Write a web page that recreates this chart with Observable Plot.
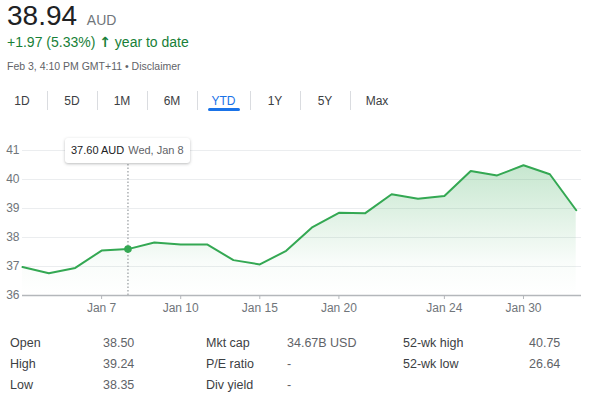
<!DOCTYPE html>
<html>
<head>
<meta charset="utf-8">
<script src="https://cdn.jsdelivr.net/npm/d3@7"></script>
<script src="https://cdn.jsdelivr.net/npm/@observablehq/plot@0.6"></script>
<style>
  html, body { margin: 0; padding: 0; background: #fff; }
  body { width: 601px; height: 399px; overflow: hidden; position: relative;
         font-family: Arial, "Liberation Sans", sans-serif; }
  .abs { position: absolute; white-space: nowrap; }
  #price { left: 7px; top: 0px; font-size: 28px; color: #202124; line-height: normal; }
  #price .cur { font-size: 14px; color: #70757a; margin-left: 2px; }
  #change { left: 7px; top: 34px; font-size: 14px; color: #188038; line-height: 17px; }
  #stamp { left: 7px; top: 60px; font-size: 10.5px; color: #5f6368; line-height: 13px; }
  .tab { position: absolute; top: 93px; font-size: 12px; color: #3c4043; text-align: center; line-height: 16px; }
  .tab.active { color: #1a73e8; }
  .sep { position: absolute; top: 91px; width: 1px; height: 19px; background: #dadce0; }
  #underline { position: absolute; top: 108px; height: 3px; background: #1a73e8; border-radius: 2px; }
  #chart { position: absolute; left: 0; top: 130px; }
  #tip { position: absolute; background: #fff; border-radius: 3px;
         box-shadow: 0 1px 3px rgba(60,64,67,0.35); font-size: 11px; line-height: 25px;
         height: 25px; padding: 0 6px; white-space: nowrap; color: #202124; }
  #tip .d { color: #5f6368; margin-left: 4px; }
  .st { position: absolute; font-size: 12.5px; line-height: 15px; white-space: nowrap; }
  .st.l { color: #3c4043; }
  .st.v { color: #5f6368; }
</style>
</head>
<body>
<div id="price" class="abs"></div>
<div id="change" class="abs"></div>
<div id="stamp" class="abs"></div>
<div id="tabs"></div>
<div id="chart"></div>
<div id="stats"></div>

<script>
// ---- Data ----
const priceNow = "38.94";
const currency = "AUD";
const changeText = "+1.97 (5.33%)";
const changeSuffix = "year to date";
const stampText = "Feb 3, 4:10 PM GMT+11 • Disclaimer";

const tabLabels = ["1D", "5D", "1M", "6M", "YTD", "1Y", "5Y", "Max"];
const activeTab = "YTD";

// trading days (YTD) and closing prices
const dates = ["Jan 2", "Jan 3", "Jan 6", "Jan 7", "Jan 8", "Jan 9", "Jan 10", "Jan 13", "Jan 14", "Jan 15",
               "Jan 16", "Jan 17", "Jan 20", "Jan 21", "Jan 22", "Jan 23", "Jan 24", "Jan 28", "Jan 29", "Jan 30",
               "Jan 31", "Feb 3"];
const closes = [36.98, 36.77, 36.95, 37.55, 37.60, 37.83, 37.76, 37.76, 37.22, 37.07,
                37.54, 38.36, 38.85, 38.84, 39.49, 39.34, 39.43, 40.29, 40.14, 40.49,
                40.18, 38.94];

const xTickDates = ["Jan 7", "Jan 10", "Jan 15", "Jan 20", "Jan 24", "Jan 30"];
const yTicks = [36, 37, 38, 39, 40, 41];

const tipDate = "Jan 8";
const tipLabel = "Wed, Jan 8";

const statLabels1 = ["Open", "High", "Low"];
const statValues1 = ["38.50", "39.24", "38.35"];
const statLabels2 = ["Mkt cap", "P/E ratio", "Div yield"];
const statValues2 = ["34.67B USD", "-", "-"];
const statLabels3 = ["52-wk high", "52-wk low"];
const statValues3 = ["40.75", "26.64"];

// ---- Header ----
document.getElementById("price").innerHTML = priceNow + ' <span class="cur">' + currency + '</span>';
document.getElementById("change").innerHTML = changeText + ' <span style="font-weight:bold;font-family:\'DejaVu Sans\'">&#8593;</span> ' + changeSuffix;
document.getElementById("stamp").textContent = stampText;

// ---- Tabs ----
const tabBounds = [-3, 47, 97, 147, 197, 250, 300, 350, 404];
const tabs = document.getElementById("tabs");
tabLabels.forEach((t, i) => {
  const d = document.createElement("div");
  d.className = "tab" + (t === activeTab ? " active" : "");
  d.style.left = tabBounds[i] + "px";
  d.style.width = (tabBounds[i + 1] - tabBounds[i]) + "px";
  d.textContent = t;
  tabs.appendChild(d);
  if (i < tabLabels.length - 1) {
    const s = document.createElement("div");
    s.className = "sep";
    s.style.left = tabBounds[i + 1] + "px";
    tabs.appendChild(s);
  }
  if (t === activeTab) {
    const u = document.createElement("div");
    u.id = "underline";
    const c = (tabBounds[i] + tabBounds[i + 1]) / 2;
    u.style.left = (c - 16) + "px";
    u.style.width = "32px";
    tabs.appendChild(u);
  }
});

// ---- Chart ----
const green = "#34a853";
const data = dates.map((d, i) => ({i, date: d, close: closes[i]}));
const tickIdx = xTickDates.map(d => dates.indexOf(d));
const tipIdx = dates.indexOf(tipDate);
const tipPoint = data[tipIdx];

const chart = Plot.plot({
  width: 601,
  height: 190,
  marginLeft: 22,
  marginRight: 20,
  marginTop: 20,
  marginBottom: 25,
  style: {fontFamily: "Arial, 'Liberation Sans', sans-serif", color: "#70757a", background: "transparent", overflow: "visible"},
  x: {domain: [0, 21.2], axis: null, label: null},
  y: {domain: [36, 41], axis: null, label: null},
  marks: [
    Plot.gridY(yTicks.filter(v => v > 36), {stroke: "#ebedef", strokeOpacity: 1, strokeWidth: 1}),
    Plot.areaY(data, {x: "i", y1: 36, y2: "close", fill: "url(#areaGrad)"}),
    Plot.ruleX([tipIdx], {stroke: "#80868b", strokeDasharray: "1.5,2", strokeWidth: 1}),
    Plot.lineY(data, {x: "i", y: "close", stroke: green, strokeWidth: 2, strokeLinejoin: "round"}),
    Plot.dot([tipPoint], {x: "i", y: "close", r: 3.8, fill: green}),
    Plot.ruleY([36], {stroke: "#b4b7bb", strokeWidth: 1.6}),
    Plot.axisY(yTicks, {anchor: "left", tickSize: 0, tickPadding: 3, fontSize: 12, fill: "#70757a", label: null}),
    Plot.axisX(tickIdx, {anchor: "bottom", tickSize: 4, tickPadding: 4, fontSize: 12, fill: "#70757a",
                         stroke: "#b4b7bb", tickFormat: i => dates[i], label: null})
  ]
});

const defs = d3.select(chart).insert("defs", ":first-child");
const grad = defs.append("linearGradient").attr("id", "areaGrad")
  .attr("x1", 0).attr("y1", 0).attr("x2", 0).attr("y2", 1);
grad.append("stop").attr("offset", "0%").attr("stop-color", green).attr("stop-opacity", 0.28);
grad.append("stop").attr("offset", "75%").attr("stop-color", green).attr("stop-opacity", 0.03);
grad.append("stop").attr("offset", "100%").attr("stop-color", green).attr("stop-opacity", 0);

document.getElementById("chart").appendChild(chart);

// Tooltip positioned from the scale
const tip = document.createElement("div");
tip.id = "tip";
tip.innerHTML = tipPoint.close.toFixed(2) + " " + currency + '<span class="d">' + tipLabel + '</span>';
document.body.appendChild(tip);
const px = chart.scale("x").apply(tipIdx);
const tw = tip.offsetWidth;
tip.style.left = Math.round(px - tw / 2) + "px";
tip.style.top = "138px";

// ---- Stats table ----
const stats = document.getElementById("stats");
const rowTops = [336, 357, 378];
function col(labels, values, lx, vx) {
  labels.forEach((l, r) => {
    const a = document.createElement("div");
    a.className = "st l"; a.style.left = lx + "px"; a.style.top = rowTops[r] + "px"; a.textContent = l;
    stats.appendChild(a);
    const b = document.createElement("div");
    b.className = "st v"; b.style.left = vx + "px"; b.style.top = rowTops[r] + "px"; b.textContent = values[r];
    stats.appendChild(b);
  });
}
col(statLabels1, statValues1, 10, 103);
col(statLabels2, statValues2, 206, 287);
col(statLabels3, statValues3, 403, 529);
</script>
</body>
</html>
